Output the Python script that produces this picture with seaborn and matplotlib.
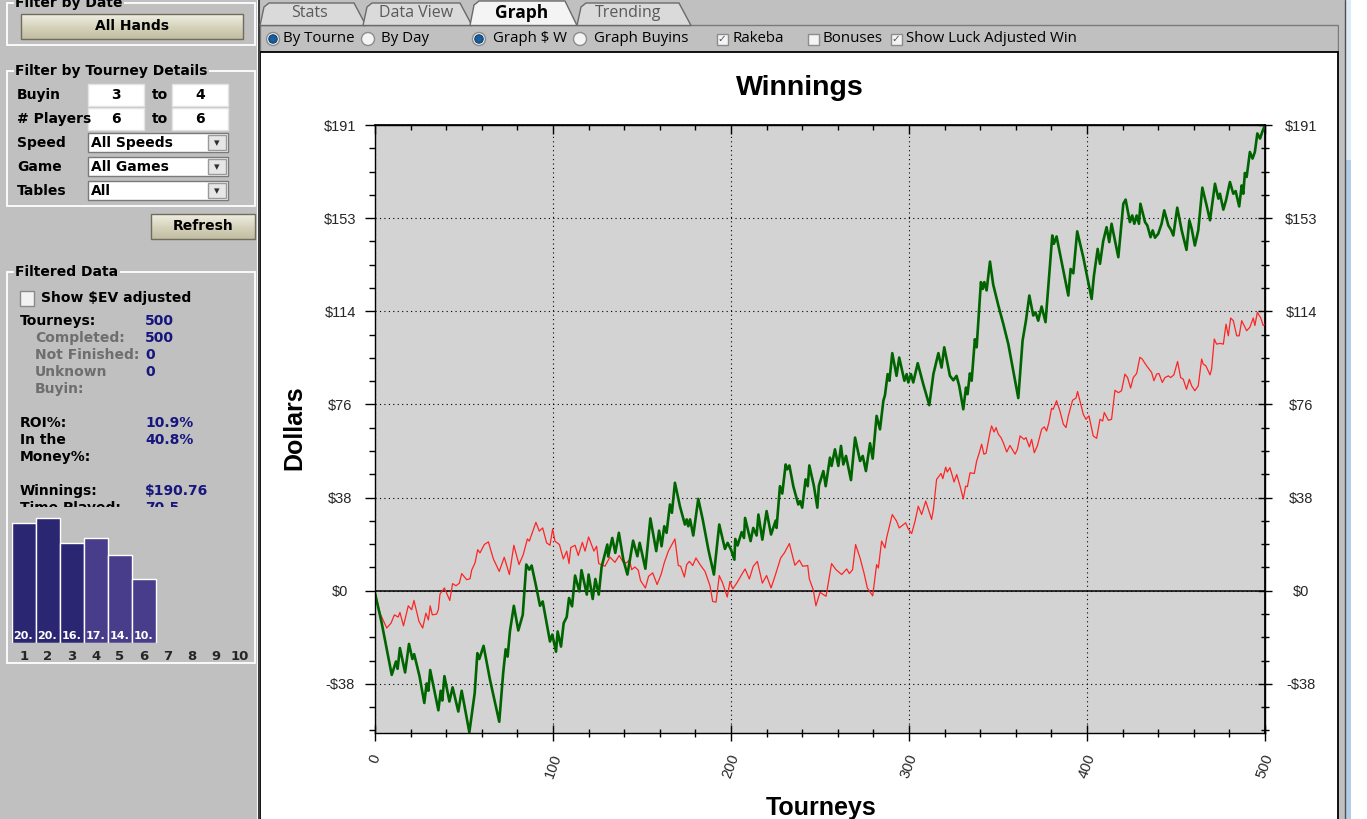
import numpy as np
import pandas as pd
import matplotlib.pyplot as plt
import seaborn as sns
from matplotlib.patches import Rectangle, Circle, Polygon
from matplotlib.colors import LinearSegmentedColormap

sns.set_theme(style='white')
plt.rcParams['font.family'] = ['DejaVu Sans']

W, H = 1367, 819
PANEL = '#c0c0c0'
PLOT_BG = '#d3d3d3'
NAVY = '#16167e'
GRAY_TXT = '#6e6e6e'

# ---- chart data ----
# actual winnings, $ after n tourneys
green_t = [0, 3.7, 9.4, 11.8, 12.7, 14, 16.9, 19.1, 21, 22, 25, 27.7, 29, 30, 31, 35.6, 36.9, 37.8, 39,
           41.8, 43.6, 46.8, 48.7, 53, 56, 57.5, 58.6, 61, 64.6, 69.8, 72, 73.4, 74.5, 75.8, 78, 80.5,
           83, 85, 86.7, 88, 90.5, 92.7, 94.2, 98.3, 99.6, 101.7, 102.6, 104.5, 106, 107.7, 109, 110.7,
           112.4, 114.8, 116, 119, 120, 122.3, 123.8, 125.7, 127.3, 130.5, 131, 133.3, 135, 137, 139.5,
           141.8, 145, 147.4, 148.7, 151.9, 154.7, 158, 159.6, 161, 162.5, 163.8, 165.7, 166.8, 168.5,
           171.3, 174.1, 175.1, 176, 177, 178.8, 181.6, 184.1, 187.3, 190.4, 193.4, 196.6, 198.1, 200,
           201.9, 202.4, 203.7, 206, 207.3, 207.9, 211, 212.5, 214.4, 215.4, 217.6, 220, 222.5, 225.1,
           225.6, 227.5, 228.8, 230.7, 231.6, 232.8, 235, 237.8, 238.8, 240, 241.9, 243.1, 244, 246.6,
           248.5, 249.4, 251.9, 253.2, 255.6, 256.5, 258.4, 260.3, 261.8, 263.1, 264.6, 267.4, 269.7,
           272.5, 274, 275.8, 278.1, 279.6, 281.8, 283.7, 285.6, 286.5, 288, 289, 290.6, 293, 294.5,
           297.4, 298.7, 299.6, 301.1, 302.4, 304.9, 308, 311.4, 313.7, 316.5, 318.3, 319.8, 323, 324.9,
           326.7, 328.2, 330.5, 332, 332.9, 334.2, 335.2, 337, 338, 340.4, 341.4, 342.3, 343.6, 345.5,
           347.3, 350.2, 353, 355.8, 361.4, 363.8, 365.7, 367.6, 369.8, 371.1, 372.6, 374.5, 376.7,
           380.5, 381.4, 382.9, 389.5, 390.8, 392.3, 394.5, 397.9, 402.6, 403.9, 406, 407.3, 409.1, 411,
           412.5, 413.8, 417.6, 420.4, 421.7, 424.1, 425.4, 426.6, 427.9, 429.2, 430, 432.6, 433.9,
           435.7, 436.9, 438.2, 440, 441.9, 443.4, 445.7, 447.2, 448.5, 450.7, 453.2, 455.9, 457.5,
           458.8, 460.6, 462.5, 464.8, 467.2, 469.1, 471.9, 473.8, 474.7, 476.6, 478.1, 480.3, 482.2,
           483.5, 485.5, 486.9, 487.8, 488.7, 489.7, 491.5, 493, 494.3, 495.7, 497.2, 498.5, 500]
green_v = [-1, -13, -34.5, -29, -32, -23.5, -33.5, -21.8, -28, -26, -35, -46, -38, -41, -32.5, -49, -41,
           -45, -35, -45.4, -39.6, -49.5, -41, -58, -42, -25.6, -28, -22.6, -36.5, -53.7, -33.8, -24,
           -27, -16.7, -6.2, -16.3, -9.9, 10.7, 8.6, 10.3, 1.8, -6.2, -4.4, -20.8, -18, -25, -16.7,
           -22.9, -13.3, -10.8, -3, -6.4, 6.2, -0.3, 8.4, -1.6, 6.6, -3.4, 4.8, -1.6, 9.7, 18.9, 14,
           21.6, 15.5, 23.7, 12.7, 6.6, 20.5, 14.1, 19.6, 9, 29.6, 16.2, 24.6, 18.2, 26.4, 23.7, 35.3,
           31.9, 44.2, 34.6, 27.1, 29.2, 26.4, 29.2, 22.6, 37.6, 29.2, 16.8, 6.6, 27.1, 17.1, 19.6,
           16.8, 12.7, 21.2, 18.5, 24, 21.6, 29.8, 20.3, 25.7, 22.6, 31.2, 20.9, 32.6, 23, 28.7, 25.7,
           42.8, 39.8, 51.7, 49.7, 51.3, 42.8, 35.3, 36.7, 34, 45.6, 42.8, 51.3, 42.8, 34, 43.1, 49,
           42.8, 54.5, 51.1, 57.9, 51.1, 59.3, 51.7, 55.2, 45.3, 62.7, 53.1, 55.2, 49, 60.4, 54.1, 71.6,
           66.1, 77.8, 80.1, 88.7, 86, 97.3, 88, 95.5, 86, 88.7, 85.3, 88.7, 85.3, 93.2, 84.6, 76,
           88.7, 97.3, 91.4, 99.7, 88, 86.2, 88, 83.9, 74.3, 83.2, 80.5, 89, 86, 103, 99.7, 126.4,
           123.6, 126.4, 123, 134.8, 125.4, 116.8, 109.2, 101, 78.9, 102.4, 110.6, 120.9, 112.7, 114,
           110.6, 116.4, 110, 145.5, 142.1, 145.1, 120.9, 131.8, 130, 147.2, 136.6, 119.5, 129.1, 140,
           133.9, 143.2, 148.9, 142.8, 150.3, 136.6, 158.5, 160.2, 151, 153.7, 150.3, 153.7, 150.3,
           158.5, 151, 149.6, 144.8, 147.6, 144.6, 146.2, 150.3, 155.8, 149.6, 147.8, 145.5, 156.9,
           147.6, 139.6, 151.7, 148.3, 141.4, 147.6, 165.1, 157.8, 151.7, 166.7, 160.6, 162.6, 156.1,
           159.9, 167.4, 162.6, 163.7, 157.4, 166, 162.6, 171.1, 169.5, 179.7, 177, 179.7, 187.3,
           185.2, 188, 190.76]

# luck adjusted winnings
red_t = [0, 2.8, 6.6, 9, 10.9, 13, 14, 16, 18.7, 20.6, 21.9, 24.7, 26.8, 28.6, 30, 31, 32.2, 34.6, 35.6,
         36.5, 39, 42, 43.6, 45.5, 47.4, 48.7, 51.5, 53.4, 54.3, 56.2, 57.7, 59, 61.4, 63.7, 66.5,
         69.8, 72.6, 75.5, 78, 80.9, 83.3, 85.6, 86.7, 90.4, 92.3, 94.2, 96.4, 98.3, 99.8, 101.1,
         103.6, 105.8, 107.7, 109, 110, 112.4, 114.2, 116.5, 118, 120, 123, 124.5, 125.7, 129.2, 132,
         134.8, 137.2, 139.5, 141.4, 142.9, 144.2, 146, 147.9, 149.2, 151.9, 153.7, 156, 158.5, 160.7,
         162.5, 164.8, 168.5, 170.4, 171.7, 173.8, 175.1, 176.6, 178.5, 180.3, 182.6, 185.4, 188.2,
         189.7, 191.6, 193.4, 195.3, 197.9, 199.4, 201, 203.5, 206, 207.9, 210.3, 212.5, 214.8, 217.6,
         220, 222.5, 224.7, 227.9, 230, 232.8, 235.9, 238.4, 240.3, 243.1, 244, 246.2, 247.7, 250,
         253.4, 256.5, 259, 262.2, 265, 266.5, 268.3, 270, 272.5, 274.7, 276.6, 279.6, 281.8, 282.8,
         284.6, 286.5, 287.4, 290.6, 293, 294.5, 298.1, 299.6, 301.5, 303.4, 305.2, 307.1, 309.4,
         312.7, 313.7, 315.5, 318, 319, 320.6, 321.5, 323, 324.5, 325.3, 326.8, 328.7, 330.5, 331.8,
         332.8, 334.3, 336.7, 338, 339.5, 340.8, 342.1, 343.3, 345.5, 346.4, 347.8, 348.9, 350.2,
         351.7, 353, 354.9, 356.7, 359.6, 360.9, 362.4, 364.6, 365.7, 367.6, 368.9, 370.4, 372.1,
         374.5, 376, 377.3, 378.6, 380.1, 381, 382.9, 384.8, 386.7, 388.2, 389.5, 391.9, 393.8, 394.7,
         397.9, 399.4, 401.1, 403.5, 405.4, 407.3, 408.8, 409.7, 412, 413.8, 415.7, 417.6, 419.4,
         421.3, 422.8, 424.5, 426, 427.9, 429.7, 431, 433.5, 436.3, 437.6, 439.1, 440.4, 442.3, 443.8,
         445.7, 447, 448.8, 450.9, 452.6, 454.1, 455.9, 457.5, 458.8, 460.6, 462.5, 464.4, 465.3,
         466.8, 469.1, 470, 471.5, 472.8, 474.7, 476.6, 478.1, 479.4, 480.7, 482.2, 484.1, 485.5,
         486.9, 488.7, 489.7, 491.5, 493.4, 494.3, 495.7, 497.5, 499, 500]
red_v = [-1, -9.2, -15.3, -13.3, -9.9, -10.8, -8.9, -14.4, -6.2, -7.8, -4, -12.6, -15.3, -9.2, -12, -6.2,
         -9.9, -9.6, -7.8, -1.4, 1.1, -4, 2.9, 2, 3.1, 7, 4.5, 4.9, 8.4, 11.4, 16.8, 15.5, 18.9, 20, 13,
         7.9, 13.7, 6.6, 18.6, 10.7, 14.8, 21.2, 20.3, 28, 24.4, 25.7, 19.6, 18.6, 25.3, 20.3, 18.9, 13,
         16.2, 11.1, 17.7, 18.6, 14.4, 19.8, 16.2, 22, 16.2, 18.2, 11.1, 10, 13.8, 11.6, 14.4, 11.6,
         11.4, 12.7, 8.6, 9.7, 8.4, 4.1, 1.1, 5.9, 7.3, 2.5, 6.6, 11.4, 16.2, 21.2, 10.3, 10, 5.6,
         10.7, 12, 10.3, 13.4, 10.7, 7.9, 2, -4.4, -4.7, 6.2, 3.1, -2.6, 3.8, 0.7, 3.4, 6.6, 8.9, 4.8,
         10, 12, 3.1, 6.2, 1.1, 5.9, 13.4, 15.5, 19.3, 10.4, 12.5, 10, 10.3, 4.8, 0.4, -6.2, -0.7,
         -2.3, 11.1, 8.6, 6.6, 8.9, 7, 8.6, 18.9, 13.4, 7.3, 1.1, -2.1, 10.7, 9.3, 20.3, 17.5, 21.6,
         31.2, 28.5, 25.7, 27.8, 25.3, 23.4, 28.5, 34.6, 31.2, 36.7, 29.2, 33.3, 45.6, 48, 45.9, 50.6,
         48.6, 50.4, 46.7, 44.5, 47.6, 42.8, 37.6, 42.8, 42.6, 48.3, 48, 53.1, 56.5, 60, 55.9, 56.3,
         64.8, 67.5, 65, 66.8, 64.1, 62.7, 60.6, 56.8, 59.5, 55.9, 57.9, 63.4, 62, 62.7, 58.9, 62,
         56.5, 59.3, 66.1, 67.1, 65.4, 68.9, 74.7, 74.3, 77.8, 73.6, 68.2, 66.8, 71.6, 78, 78.9, 81.6,
         72.3, 70.2, 71.6, 63.4, 62.4, 70.2, 69.5, 73, 69.8, 70.2, 82.1, 81.1, 81.9, 88.7, 87.3, 83,
         87.3, 89, 95.6, 94.9, 92.1, 89.4, 86, 88.7, 89, 85.3, 87.3, 88, 87.3, 88.4, 93.9, 87.3, 86.6,
         82.5, 86.6, 83.9, 81.9, 83.9, 94.9, 92.8, 92.1, 88.4, 90.8, 103.1, 101, 101.3, 101, 109.2,
         104.4, 111.7, 110.6, 104.4, 104.4, 110.6, 107.9, 106.5, 107.9, 111.7, 108.6, 114, 111.9,
         108.6, 109.2]

y_tick_labels = ['-$38', '$0', '$38', '$76', '$114', '$153', '$191']
x_tick_values = [0, 100, 200, 300, 400, 500]

# finishing place distribution (small bar chart)
places = ['1', '2', '3', '4', '5', '6', '7', '8', '9', '10']
place_pct = [20.0, 20.8, 16.6, 17.4, 14.6, 10.6]
place_lbl = ['20.', '20.', '16.', '17.', '14.', '10.']

# filtered data panel
stat_names = ['Tourneys:', 'Completed:', 'Not Finished:', 'Unknown', 'Buyin:', 'ROI%:', 'In the',
              'Money%:', 'Winnings:', 'Time Played:']
stat_values = ['500', '500', '0', '0', '', '10.9%', '40.8%', '', '$190.76', '70.5']

tab_names = ['Stats', 'Data View', 'Graph', 'Trending']

fig = plt.figure(figsize=(W / 100, H / 100), dpi=100)
fig.patch.set_facecolor(PANEL)

# background axes in pixel coordinates (y down)
bg = fig.add_axes([0, 0, 1, 1], zorder=0)
bg.axis('off')


def rect(x0, y0, x1, y1, fc, ec='none', lw=1.0, z=1):
    bg.add_patch(Rectangle((x0, y0), x1 - x0, y1 - y0, facecolor=fc, edgecolor=ec, lw=lw, zorder=z))


def label(x, y, s, size=10, weight='bold', color='black', ha='left', family='DejaVu Sans', z=5, **kw):
    bg.text(x, y, s, fontsize=size, fontweight=weight, color=color, ha=ha, va='center',
            family=family, zorder=z, **kw)


btn_cmap = LinearSegmentedColormap.from_list('btn', ['#efeee2', '#d6d3bd', '#c2bea2'])
grad = np.linspace(0, 1, 30).reshape(-1, 1)


def button(x0, y0, x1, y1, s):
    bg.imshow(grad, extent=(x0, x1, y1, y0), cmap=btn_cmap, aspect='auto', zorder=2)
    rect(x0, y0, x1, y1, 'none', ec='#6f6c5c', lw=1.0, z=3)
    label((x0 + x1) / 2, (y0 + y1) / 2, s, ha='center')


def group(x0, y0, x1, y1, title):
    rect(x0, y0, x1, y1, 'none', ec='white', lw=1.3, z=2)
    label(x0 + 8, y0, title, bbox=dict(fc=PANEL, ec='none', pad=1.0))


rect(0, 0, W, H, PANEL, z=0)

# ---- left panel ----
bg.plot([256.5, 256.5], [0, H], color='white', lw=0.8, zorder=2)
bg.plot([259, 259], [0, H], color='#3c3c3c', lw=1.5, zorder=2)

group(7, 3, 255, 45, 'Filter by Date')
button(21, 14, 243, 39, 'All Hands')

group(7, 71, 255, 206, 'Filter by Tourney Details')
for y, name, lo, hi in [(95, 'Buyin', '3', '4'), (119, '# Players', '6', '6')]:
    label(17, y, name)
    rect(88, y - 11, 144, y + 11, 'white', ec='#e4e4e4', z=2)
    rect(172, y - 11, 228, y + 11, 'white', ec='#e4e4e4', z=2)
    label(116, y, lo, ha='center')
    label(160, y, 'to', ha='center')
    label(200, y, hi, ha='center')
for y, name, val in [(143, 'Speed', 'All Speeds'), (167, 'Game', 'All Games'), (191, 'Tables', 'All')]:
    label(17, y, name)
    rect(88, y - 10, 228, y + 9, 'white', ec='#7a7a7a', z=2)
    rect(208, y - 8, 226, y + 7, '#e6e6e6', ec='#9a9a9a', z=3)
    label(217, y, '▾', size=8, weight='normal', ha='center', color='#303030')
    label(91, y, val)
button(151, 214, 255, 239, 'Refresh')

group(7, 272, 255, 663, 'Filtered Data')
rect(20, 291, 34, 306, '#f2f2f2', ec='#8a8a8a', z=2)
label(41, 298, 'Show $EV adjusted')
stat_rows = [(20, 321), (35, 338), (35, 355), (35, 372), (35, 389), (20, 423), (20, 440), (20, 457),
             (20, 491), (20, 508)]
for (x, y), name, val in zip(stat_rows, stat_names, stat_values):
    color = GRAY_TXT if x > 20 else 'black'
    label(x, y, name, color=color)
    label(145, y, val, color=NAVY)
rect(8, 507, 254, 516, PANEL, z=6)

# ---- tabs and options row ----
rect(260, 25, 1338, 52, PANEL, ec='#7a7a7a', lw=1.0, z=1)
tab_x = {'Stats': (260, 366), 'Data View': (363, 472), 'Graph': (470, 577), 'Trending': (577, 691)}
tab_text_x = {'Stats': 310, 'Data View': 416, 'Graph': 522, 'Trending': 628}
for name in ['Stats', 'Data View', 'Trending', 'Graph']:
    l, r = tab_x[name]
    sel = name == 'Graph'
    top = 1 if sel else 3
    bg.add_patch(Polygon([(l, 25.5), (l + 4, top + 4), (l + 9, top), (r - 12, top), (r, 25.5)],
                         closed=True, facecolor='#f4f4f4' if sel else '#dadada',
                         edgecolor='#6a6a6a', lw=1.0, zorder=3 if sel else 2))
    label(tab_text_x[name], 13, name, size=12.5 if sel else 11.5, weight='bold' if sel else 'normal',
          color='black' if sel else '#5a5a5a', ha='center', family='Open Sans', z=6)

for x, selected in [(273, True), (368, False), (479, True), (580, False)]:
    bg.add_patch(Circle((x, 39), 6.5, facecolor='#f4f4f4', edgecolor='#8c8c8c', lw=1.0, zorder=4))
    if selected:
        bg.add_patch(Circle((x, 39), 4.2, facecolor='#1b5e9e', edgecolor='#0d3f70', lw=0.8, zorder=5))
for x, s in [(283, 'By Tourne'), (381, 'By Day'), (493, 'Graph $ W'), (594, 'Graph Buyins'),
             (733, 'Rakeba'), (822, 'Bonuses'), (906, 'Show Luck Adjusted Win')]:
    label(x, 39, s, size=10.8, weight='normal', family='Open Sans', z=3)
for x, checked in [(722, True), (813, False), (896, True)]:
    rect(x - 5.5, 33.5, x + 5.5, 44.5, '#f4f4f4', ec='#8c8c8c', z=4)
    if checked:
        label(x, 39, '✓', size=7.5, weight='bold', ha='center', color='#4a4a6a', z=6)

# ---- chart panel ----
rect(260, 52, 1338, H + 5, 'white', ec='black', lw=1.3, z=1)
rect(1339, 0, 1344, H, PANEL, z=1)
bg.plot([1344.5, 1344.5], [0, H], color='#505050', lw=1.0, zorder=2)
rect(1345, 0, 1351, 160, '#dde9f5', z=1)
rect(1345, 160, 1351, H, '#b3cde9', z=1)
rect(1351, 0, W, H, 'white', z=1)

label(800, 88, 'Winnings', size=20.5, family='Liberation Sans', ha='center')
label(294, 428, 'Dollars', size=18, family='Liberation Sans', rotation=90, ha='center')
label(821, 808, 'Tourneys', size=18, family='Liberation Sans', ha='center')

bg.set_xlim(0, W)
bg.set_ylim(H, 0)

# ---- main chart ----
ax = fig.add_axes([375 / W, 1 - 733 / H, 890 / W, 608 / H], zorder=2)
ax.set_facecolor(PLOT_BG)
luck = pd.DataFrame({'tourney': red_t, 'dollars': red_v})
won = pd.DataFrame({'tourney': green_t, 'dollars': green_v})
sns.lineplot(data=luck, x='tourney', y='dollars', ax=ax, color='#ff2424', linewidth=0.9,
             estimator=None, sort=False)
sns.lineplot(data=won, x='tourney', y='dollars', ax=ax, color='#006400', linewidth=1.9,
             estimator=None, sort=False)
ax.axhline(0, color='black', lw=1.1, zorder=1.5)

top_val = max(green_v)
step = top_val / 5
y_major = [step * k for k in range(-1, 6)]
y_minor = [step / 4 * k for k in range(-6, 21)]
ax.set_xlim(0, 500)
ax.set_ylim(min(green_v) - 0.3, top_val)
ax.set_yticks(y_major)
ax.set_yticklabels(y_tick_labels)
ax.set_yticks(y_minor, minor=True)
ax.set_xticks(x_tick_values)
ax.set_xticks(np.arange(0, 501, 20), minor=True)
ax.set_xticklabels([str(v) for v in x_tick_values], rotation=70, ha='center', va='top')
ax.set_xlabel('')
ax.set_ylabel('')
ax.grid(which='major', color='black', ls=(0, (1, 3)), lw=0.8)
ax.grid(which='minor', visible=False)
for sp in ax.spines.values():
    sp.set_color('black')
    sp.set_linewidth(1.0)
ax.tick_params(axis='y', which='major', left=True, direction='out', length=7, width=1, color='black',
               labelsize=10.5, pad=18, labelfontfamily='Liberation Sans')
ax.tick_params(axis='y', which='minor', left=True, direction='out', length=4, width=1, color='black')
ax.tick_params(axis='x', which='major', bottom=True, direction='inout', length=12, width=1,
               color='black', labelsize=10.5, pad=8, labelfontfamily='Liberation Sans')
ax.tick_params(axis='x', which='minor', bottom=True, direction='inout', length=6, width=1,
               color='black')
for lab in ax.get_yticklabels():
    lab.set_horizontalalignment('center')

sec_y = ax.secondary_yaxis('right')
sec_y.set_yticks(y_major)
sec_y.set_yticklabels(y_tick_labels)
sec_y.set_yticks(y_minor, minor=True)
sec_y.tick_params(which='major', right=True, direction='inout', length=10, width=1, color='black',
                  labelsize=10.5, pad=21, labelfontfamily='Liberation Sans')
sec_y.tick_params(which='minor', right=True, direction='inout', length=6, width=1, color='black')
for lab in sec_y.get_yticklabels():
    lab.set_horizontalalignment('center')
sec_y.spines['right'].set_color('black')

sec_x = ax.secondary_xaxis('top')
sec_x.set_xticks(x_tick_values)
sec_x.set_xticks(np.arange(0, 501, 20), minor=True)
sec_x.tick_params(which='major', top=True, direction='in', length=6.5, width=1, color='black',
                  labeltop=False)
sec_x.tick_params(which='minor', top=True, direction='in', length=3.5, width=1, color='black')
sec_x.spines['top'].set_color('black')

# ---- finishing place bars ----
bax = fig.add_axes([12 / W, 1 - 643 / H, 240 / W, 126.4 / H], zorder=2)
bax.patch.set_alpha(0)
bar_colors = ['#2a2672', '#2a2672', '#2a2672', '#483d8b', '#483d8b', '#483d8b']
sns.barplot(x=places[:6], y=place_pct, order=places, hue=places[:6], palette=bar_colors,
            legend=False, width=0.96, saturation=1, ax=bax)
bax.set_xlim(-0.5, 9.5)
bax.set_ylim(0, 21)
bax.set_yticks([])
bax.set_xlabel('')
bax.set_ylabel('')
for sp in bax.spines.values():
    sp.set_visible(False)
bax.tick_params(axis='x', length=0, pad=5, labelsize=9.5)
for lab in bax.get_xticklabels():
    lab.set_fontweight('bold')
for i, s in enumerate(place_lbl):
    bax.text(i - 0.45, 0.25, s, color='white', fontsize=8, fontweight='bold', va='bottom', ha='left')

fig.savefig('out.png', dpi=100)
